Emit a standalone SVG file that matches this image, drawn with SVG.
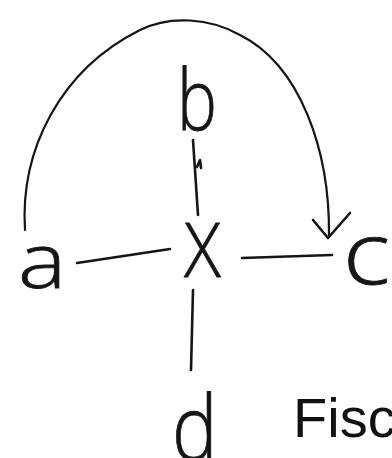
<svg xmlns="http://www.w3.org/2000/svg" width="392" height="458" viewBox="0 0 392 458">
<style>
.lbl{font-family:"Open Sans","Liberation Sans","DejaVu Sans",sans-serif;fill:#151515;font-weight:300;stroke:#151515;stroke-width:0.8}
.ln{fill:none;stroke:#151515;stroke-width:2.6;stroke-linecap:round;stroke-linejoin:round}
.arc{fill:none;stroke:#151515;stroke-width:2.2;stroke-linecap:round}
.cap{font-family:"Liberation Sans","DejaVu Sans",sans-serif;fill:#111;font-size:56px}
</style>
<rect width="392" height="458" fill="#fff"/>
<g id="connectors">
<path class="arc" d="M25,230 C20,150 60,70 140,30 C170,15 210,18 240,35 C300,65 330,150 329,236"/>
<path class="ln" d="M313,220 L328,238 L350,213"/>
<path class="ln" d="M193,140 L198,215"/>
<path class="ln" d="M197,167 L200,160 L201,168"/>
<path class="ln" d="M77,263 L170,249"/>
<path class="ln" d="M242,258 L332,255"/>
<path class="ln" d="M193,290 L191,370"/>
</g>
<g id="node-b"><text class="lbl" font-size="84" transform="translate(177,130) scale(0.8,1)">b</text></g>
<g id="node-x"><text class="lbl" font-size="76" transform="translate(184,277) scale(0.9,1)">X</text></g>
<g id="node-a"><text class="lbl" font-size="76" transform="translate(18,288) scale(1.2,1)">a</text></g>
<g id="node-c"><text class="lbl" font-size="86" transform="translate(343,284) scale(1.15,1)">c</text></g>
<g id="node-d"><text class="lbl" font-size="90" transform="translate(172,460) scale(0.85,1)">d</text></g>
<text class="cap" x="293" y="437">Fisc</text>
</svg>
